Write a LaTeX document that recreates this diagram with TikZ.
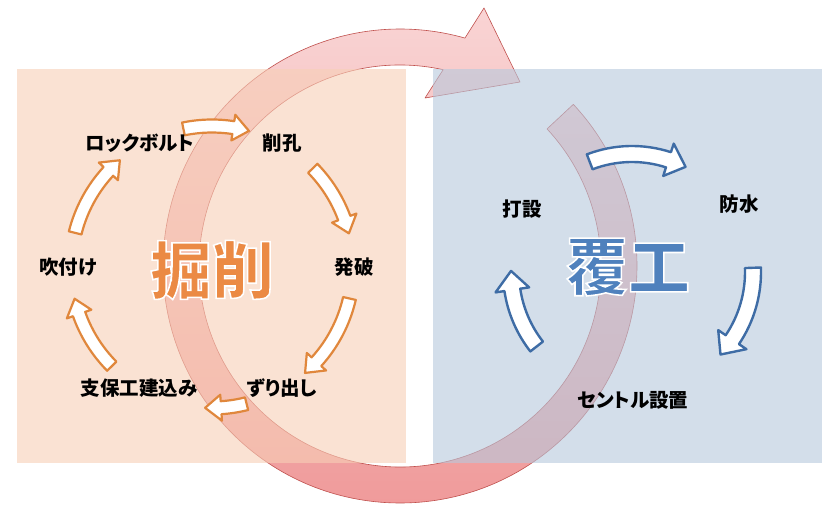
\documentclass[tikz,border=0pt]{standalone}
\usepackage{fontspec}
\newfontfamily\jp{Noto Sans CJK JP}[RawFeature=+palt]
\newfontfamily\jpbig{Noto Sans CJK JP}[BoldFeatures={FakeBold=2.5}, FakeBold=2.5]
\usetikzlibrary{calc}
\definecolor{panelL}{RGB}{247,207,183}
\definecolor{panelR}{RGB}{182,200,220}
\definecolor{ringTop}{RGB}{249,212,212}
\definecolor{ringBot}{RGB}{239,152,152}
\definecolor{ringEdge}{RGB}{192,80,77}
\definecolor{orangeEdge}{RGB}{224,135,60}
\definecolor{blueEdge}{RGB}{62,108,165}
\definecolor{bigOrange}{RGB}{235,138,68}
\definecolor{bigBlue}{RGB}{79,129,189}
\tikzset{
  panelbox/.style={draw=none, fill opacity=0.6},
  steplabel/.style={font=\jp\bfseries\fontsize{19.5}{19.5}\selectfont, inner sep=0pt, text=black},
  bigtitle/.style={font=\jpbig\bfseries\fontsize{62}{62}\selectfont, inner sep=0pt},
  oarrow/.style={draw=orangeEdge, fill=white, line width=2.2pt, line join=round},
  barrow/.style={draw=blueEdge, fill=white, line width=2.4pt, line join=round},
  bigring/.style={draw=ringEdge, line width=0.6pt, top color=ringTop, bottom color=ringBot, line join=round},
}
% style, centre, radius, half width, start angle, head base angle, tip angle, head half width
\newcommand\blockarc[8]{%
  \pgfmathsetmacro\arcRo{#3+#4}\pgfmathsetmacro\arcRi{#3-#4}%
  \pgfmathsetmacro\arcHo{#3+#8}\pgfmathsetmacro\arcHi{#3-#8}%
  \begin{scope}[shift={(#2)}]
    \draw[#1] (#5:\arcRo pt) arc[start angle=#5, end angle=#6, radius=\arcRo pt]
      -- (#6:\arcHo pt) -- (#7:#3 pt) -- (#6:\arcHi pt) -- (#6:\arcRi pt)
      arc[start angle=#6, end angle=#5, radius=\arcRi pt] -- cycle;
  \end{scope}}
% coloured word with a white outline (fake-bold stroke painted white)
\newcommand\bigword[2]{{\color{#1}\special{pdf:literal direct 1 1 1 RG}#2}}
\begin{document}
\begin{tikzpicture}[x=1pt, y=1pt]
\useasboundingbox (0,0) rectangle (840,515);
\fill[white] (0,0) rectangle (840,515);
\coordinate (BC) at (400,249);
\coordinate (LC) at (212,248);
\coordinate (RC) at (632,243);
% big circular arrow
\begin{scope}[shift={(BC)}]
  \draw[bigring] (43:237pt) arc[start angle=43, end angle=-285.9, radius=237pt]
    -- (84,258) -- (120,184) -- (25,168) -- (-282.4:201pt)
    arc[start angle=-282.4, end angle=43, radius=201pt] -- cycle;
\end{scope}
% panels
\fill[panelbox, fill=panelL] (17,52) rectangle (406,446);
\fill[panelbox, fill=panelR] (433,52) rectangle (822,446);
% titles
\node[bigtitle] (kussaku) at (212,245) {\bigword{bigOrange}{掘削}};
\node[bigtitle] (fukko) at (628,248) {\bigword{bigBlue}{覆工}};
% left cycle arrows
\blockarc{oarrow}{LC}{141}{6.5}{101.7}{81.3}{74.8}{13}
\blockarc{oarrow}{LC}{141}{6.5}{44.4}{20.3}{13.8}{13}
\blockarc{oarrow}{LC}{141}{6.5}{-12.9}{-42.2}{-48.7}{13}
\blockarc{oarrow}{LC}{141}{6.5}{-75.8}{-86.3}{-92.8}{13}
\blockarc{oarrow}{LC}{141}{6.5}{-135.3}{-160.5}{-167}{13}
\blockarc{oarrow}{LC}{141}{6.5}{166}{137.3}{130.8}{13}
% right cycle arrows
\blockarc{barrow}{RC}{118}{8}{111}{72}{63}{17}
\blockarc{barrow}{RC}{121}{8}{2}{-34}{-43}{17}
\blockarc{barrow}{RC}{121}{8}{-142}{-171.5}{-180.5}{17}
% labels
\node[steplabel] (rb) at (140,372) {ロックボルト};
\node[steplabel] (sk) at (282,372) {削孔};
\node[steplabel] (hp) at (354,248) {発破};
\node[steplabel] (zd) at (282,127) {ずり出し};
\node[steplabel] (sh) at (139,127) {支保工建込み};
\node[steplabel] (ft) at (68,248) {吹付け};
\node[steplabel] (ds) at (522,306) {打設};
\node[steplabel] (bs) at (739,311) {防水};
\node[steplabel] (cs) at (633,115) {セントル設置};
\end{tikzpicture}
\end{document}
